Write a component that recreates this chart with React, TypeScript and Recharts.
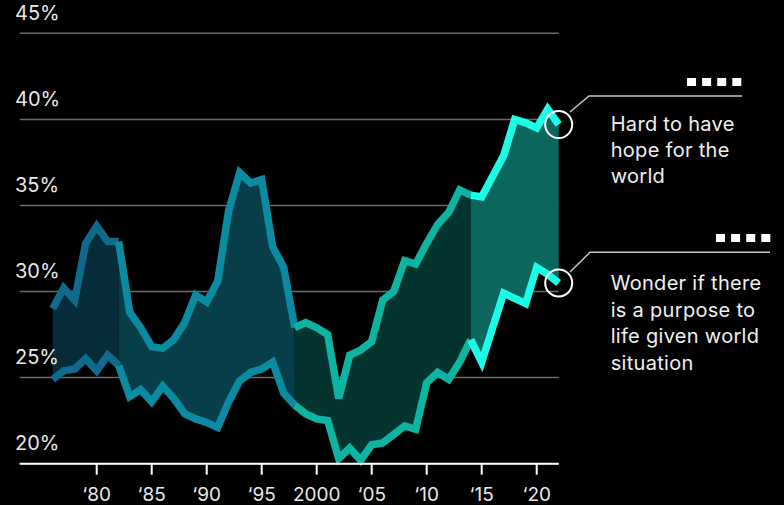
import React from 'react'
import {
  ComposedChart,
  Area,
  Line,
  XAxis,
  YAxis,
  CartesianGrid,
  ReferenceDot,
} from 'recharts'

const years = [
  1976, 1977, 1978, 1979, 1980, 1981, 1982, 1983, 1984, 1985, 1986, 1987,
  1988, 1989, 1990, 1991, 1992, 1993, 1994, 1995, 1996, 1997, 1998, 1999,
  2000, 2001, 2002, 2003, 2004, 2005, 2006, 2007, 2008, 2009, 2010, 2011,
  2012, 2013, 2014, 2015, 2016, 2017, 2018, 2019, 2020, 2021, 2022,
]

// "Hard to have hope for the world"
const hopeValues = [
  29.0, 30.2, 29.5, 32.8, 33.8, 32.9, 32.9, 28.8, 27.9, 26.8, 26.7, 27.2,
  28.2, 29.8, 29.4, 30.6, 34.7, 36.9, 36.3, 36.5, 32.6, 31.4, 27.9, 28.2,
  27.9, 27.5, 23.8, 26.3, 26.6, 27.1, 29.5, 30.0, 31.8, 31.6, 32.8, 33.9,
  34.6, 35.9, 35.6, 35.5, 36.7, 37.9, 40.0, 39.8, 39.5, 40.6, 39.7,
]

// "Wonder if there is a purpose to life given world situation"
const purposeValues = [
  24.9, 25.4, 25.5, 26.1, 25.4, 26.3, 25.7, 23.9, 24.3, 23.6, 24.5, 23.8,
  22.9, 22.6, 22.4, 22.1, 23.6, 24.8, 25.3, 25.5, 25.9, 24.1, 23.4, 22.9,
  22.6, 22.5, 20.3, 20.9, 20.2, 21.1, 21.2, 21.7, 22.2, 22.0, 24.7, 25.3,
  24.9, 25.9, 27.2, 25.9, 27.9, 29.9, 29.6, 29.3, 31.4, 31.0, 30.5,
]

// colour periods: start and end year of each shaded stretch
const periodBounds = [1976, 1982, 1998, 2014, 2022]
const lineColors = ['#0f6a8c', '#0a8ba2', '#0cb4a1', '#1cfde7']
const fillColors = ['#062b39', '#073e4a', '#03342f', '#0b665e']

const xTicks = [1980, 1985, 1990, 1995, 2000, 2005, 2010, 2015, 2020]
const yTicks = [20, 25, 30, 35, 40, 45]

const periods = lineColors.map((_, k) => ({
  from: periodBounds[k],
  to: periodBounds[k + 1],
}))

const rows = years.map((year, i) => {
  const row: Record<string, any> = { year }
  periods.forEach((p, k) => {
    const inside = year >= p.from && year <= p.to
    row[`hope${k}`] = inside ? hopeValues[i] : null
    row[`purpose${k}`] = inside ? purposeValues[i] : null
    row[`band${k}`] = inside ? [purposeValues[i], hopeValues[i]] : null
  })
  return row
})

const lastHope = hopeValues[hopeValues.length - 1]
const lastPurpose = purposeValues[purposeValues.length - 1]
const lastYear = years[years.length - 1]

const formatYear = (v: number) => (v === 2000 ? '2000' : '\u2018' + String(v).slice(2))

const renderYTick = (props: any) => {
  const { y, payload } = props
  return (
    <text key={payload.value} x={15} y={y - 13.3} fill="#e8e8e8" fontSize={20} textAnchor="start">
      {payload.value}%
    </text>
  )
}

function Squares({ x, y }: { x: number; y: number }) {
  return (
    <g>
      {[0, 1, 2, 3].map((k) => (
        <rect key={k} x={x + k * 15.1} y={y} width={9} height={8} fill="#ffffff" />
      ))}
    </g>
  )
}

export default function App() {
  return (
    <div
      style={{
        position: 'fixed',
        left: 0,
        top: 0,
        width: 784,
        height: 505,
        background: '#000',
        fontFamily: 'Inter, "Noto Sans", sans-serif',
      }}
    >
      <ComposedChart
        width={784}
        height={505}
        data={rows}
        margin={{ top: 33.3, right: 225.3, left: 0, bottom: 0 }}
      >
        <CartesianGrid vertical={false} stroke="#6b6b6b" strokeWidth={1.5} />
        <XAxis
          dataKey="year"
          type="number"
          domain={[1973, 2022]}
          ticks={xTicks}
          tickFormatter={formatYear}
          height={41.3}
          stroke="#ffffff"
          strokeWidth={2}
          tickSize={11}
          tickMargin={13}
          tick={{ fill: '#e8e8e8', fontSize: 19 }}
          interval={0}
        />
        <YAxis
          type="number"
          domain={[20, 45]}
          ticks={yTicks}
          width={19.7}
          axisLine={false}
          tickLine={false}
          tick={renderYTick}
          interval={0}
        />
        {periods.map((_, k) => (
          <Area
            key={`band${k}`}
            dataKey={`band${k}`}
            type="linear"
            stroke="none"
            fill={fillColors[k]}
            fillOpacity={1}
            isAnimationActive={false}
            activeDot={false}
          />
        ))}
        {periods.map((_, k) => (
          <Line
            key={`purpose${k}`}
            dataKey={`purpose${k}`}
            type="linear"
            stroke={lineColors[k]}
            strokeWidth={7.5}
            dot={false}
            activeDot={false}
            isAnimationActive={false}
          />
        ))}
        {periods.map((_, k) => (
          <Line
            key={`hope${k}`}
            dataKey={`hope${k}`}
            type="linear"
            stroke={lineColors[k]}
            strokeWidth={7.5}
            dot={false}
            activeDot={false}
            isAnimationActive={false}
          />
        ))}
        <ReferenceDot x={lastYear} y={lastHope} r={13.5} fill="none" stroke="#ffffff" strokeWidth={2} />
        <ReferenceDot x={lastYear} y={lastPurpose} r={13.5} fill="none" stroke="#ffffff" strokeWidth={2} />
      </ComposedChart>

      <svg
        width={784}
        height={505}
        style={{ position: 'absolute', left: 0, top: 0, pointerEvents: 'none' }}
      >
        <polyline points="570,112 589,96 742,96" fill="none" stroke="#c8c8c8" strokeWidth={1.5} />
        <polyline points="570,272 590,252.3 770,252.3" fill="none" stroke="#c8c8c8" strokeWidth={1.5} />
        <Squares x={687} y={78} />
        <Squares x={716} y={234} />
        <text fill="#f0f0f0" fontSize={20} letterSpacing={0.3}>
          <tspan x={610.7} y={131}>Hard to have</tspan>
          <tspan x={610.7} y={157}>hope for the</tspan>
          <tspan x={610.7} y={183}>world</tspan>
        </text>
        <text fill="#f0f0f0" fontSize={20} letterSpacing={0.3}>
          <tspan x={610.7} y={290}>Wonder if there</tspan>
          <tspan x={610.7} y={316.5}>is a purpose to</tspan>
          <tspan x={610.7} y={343}>life given world</tspan>
          <tspan x={610.7} y={369.5}>situation</tspan>
        </text>
      </svg>
    </div>
  )
}
